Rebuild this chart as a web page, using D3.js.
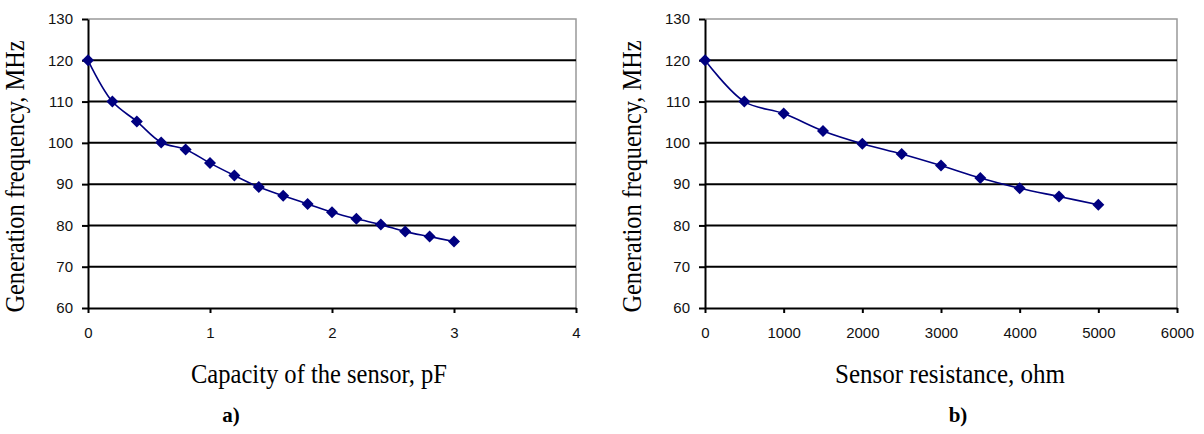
<!DOCTYPE html>
<html>
<head>
<meta charset="utf-8">
<script src="https://cdn.jsdelivr.net/npm/d3@7"></script>
<style>
  body { margin: 0; background: #fff; }
  svg { display: block; }
</style>
</head>
<body>
<div id="chart"><svg width="1204" height="434"></svg></div>
<script>
// panel a) - capacity of the sensor
const capX = [0, 0.2, 0.4, 0.6, 0.8, 1.0, 1.2, 1.4, 1.6, 1.8, 2.0, 2.2, 2.4, 2.6, 2.8, 3.0]
const capY = [120, 110, 105.2, 100.1, 98.4, 95.1, 92.1, 89.3, 87.2, 85.2, 83.2, 81.6, 80.2, 78.5, 77.3, 76.1]
const capTicks = [0, 1, 2, 3, 4]

// panel b) - sensor resistance
const resX = [0, 500, 1000, 1500, 2000, 2500, 3000, 3500, 4000, 4500, 5000]
const resY = [120, 110, 107.1, 102.9, 99.8, 97.3, 94.5, 91.5, 89, 87, 85]
const resTicks = [0, 1000, 2000, 3000, 4000, 5000, 6000]

const yTicks = [60, 70, 80, 90, 100, 110, 120, 130]

const xTitles = ['Capacity of the sensor, pF', 'Sensor resistance, ohm']
const yTitle = 'Generation frequency, MHz'
const panelLabels = ['a)', 'b)']

const svg = d3.select('#chart svg')
const navy = '#000080'

const panels = [
    { xs: capX, ys: capY, ticks: capTicks, left: 88, right: 576, title: xTitles[0], titleX: 319, titleW: 256, label: panelLabels[0], labelX: 231 },
    { xs: resX, ys: resY, ticks: resTicks, left: 705, right: 1177, title: xTitles[1], titleX: 950, titleW: 230, label: panelLabels[1], labelX: 958 }
]

const plotTop = 19, plotBottom = 308

// square diamond marker, half-size 6
const diamond = 'M0,-6L6,0L0,6L-6,0Z'

panels.forEach(p => {
    const g = svg.append('g')

    const x = d3.scaleLinear()
        .domain([p.ticks[0], p.ticks[p.ticks.length - 1]])
        .range([p.left, p.right])

    const y = d3.scaleLinear()
        .domain([60, 130])
        .range([plotBottom, plotTop])

    // plot frame (grey top / right)
    g.append('path')
        .attr('d', `M${p.left},${plotTop}H${p.right}V${plotBottom}`)
        .attr('fill', 'none')
        .attr('stroke', '#999')
        .attr('stroke-width', 1.5)

    // horizontal gridlines
    g.selectAll('line.grid')
        .data(yTicks.filter(d => d > 60 && d < 130))
        .join('line')
        .attr('class', 'grid')
        .attr('x1', p.left)
        .attr('x2', p.right)
        .attr('y1', d => y(d))
        .attr('y2', d => y(d))
        .attr('stroke', '#000')
        .attr('stroke-width', 2)

    // y axis
    g.append('g')
        .attr('transform', `translate(${p.left},0)`)
        .call(d3.axisLeft(y).tickValues(yTicks).tickSize(6).tickPadding(9).tickSizeOuter(0))
        .call(a => a.select('.domain').attr('stroke', '#000').attr('stroke-width', 2))
        .call(a => a.selectAll('.tick line').attr('stroke', '#000').attr('stroke-width', 2))
        .call(a => a.selectAll('.tick text')
            .attr('fill', '#111')
            .style('font-family', 'Arial, "Liberation Sans", sans-serif')
            .style('font-size', '15px'))

    // x axis
    g.append('g')
        .attr('transform', `translate(0,${plotBottom})`)
        .call(d3.axisBottom(x).tickValues(p.ticks).tickSize(5).tickPadding(14).tickSizeOuter(0).tickFormat(d3.format('d')))
        .call(a => a.select('.domain').attr('stroke', '#000').attr('stroke-width', 2))
        .call(a => a.selectAll('.tick line').attr('stroke', '#000').attr('stroke-width', 2))
        .call(a => a.selectAll('.tick text')
            .attr('fill', '#111')
            .style('font-family', 'Arial, "Liberation Sans", sans-serif')
            .style('font-size', '15px'))

    // data line
    const line = d3.line()
        .x((d, i) => x(p.xs[i]))
        .y(d => y(d))
        .curve(d3.curveCatmullRom)

    g.append('path')
        .datum(p.ys)
        .attr('d', line)
        .attr('fill', 'none')
        .attr('stroke', navy)
        .attr('stroke-width', 1.6)

    // diamond markers
    g.selectAll('path.pt')
        .data(p.ys)
        .join('path')
        .attr('class', 'pt')
        .attr('d', diamond)
        .attr('transform', (d, i) => `translate(${x(p.xs[i])},${y(d)})`)
        .attr('fill', navy)

    // y title
    g.append('text')
        .text(yTitle)
        .attr('transform', `translate(${p.left - 64},${(plotTop + plotBottom) / 2 + 13}) rotate(-90)`)
        .attr('text-anchor', 'middle')
        .attr('textLength', 272)
        .attr('lengthAdjust', 'spacingAndGlyphs')
        .style('font-family', '"Times New Roman", "Liberation Serif", serif')
        .style('font-size', '28px')

    // x title
    g.append('text')
        .text(p.title)
        .attr('x', p.titleX)
        .attr('y', 383)
        .attr('text-anchor', 'middle')
        .attr('textLength', p.titleW)
        .attr('lengthAdjust', 'spacingAndGlyphs')
        .style('font-family', '"Times New Roman", "Liberation Serif", serif')
        .style('font-size', '28px')

    // panel label
    g.append('text')
        .text(p.label)
        .attr('x', p.labelX)
        .attr('y', 422)
        .attr('text-anchor', 'middle')
        .style('font-family', '"Times New Roman", "Liberation Serif", serif')
        .style('font-size', '21px')
        .style('font-weight', 'bold')
})
</script>
</body>
</html>
